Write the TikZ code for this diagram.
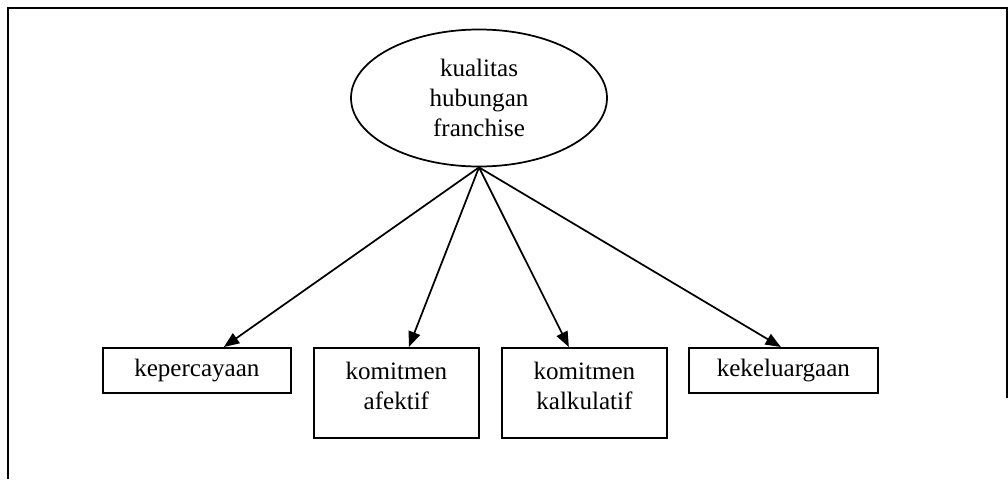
\documentclass[tikz,border=0pt]{standalone}
\usepackage{fontspec}
\setmainfont{Liberation Serif}
\usetikzlibrary{shapes.geometric,arrows.meta,calc}
\begin{document}
\begin{tikzpicture}[x=0.75pt,y=-0.75pt,
  lbl/.style={font=\fontsize{18.8pt}{22.5pt}\selectfont, align=center},
  box/.style={draw, line width=1.3pt, rectangle, inner sep=0pt, anchor=north west, lbl},
  conn/.style={-{Triangle[length=11.5pt,width=9pt]}, line width=1.3pt}]
\useasboundingbox (0,0) rectangle (1008,479);
\draw[line width=1.5pt] (8,479) -- (8,8) -- (1006.5,8) -- (1006.5,398);
\node[ellipse, draw, line width=1.3pt, minimum width=192pt, minimum height=102.75pt, inner sep=0pt, lbl] (kh) at (479,98) {kualitas\\hubungan\\franchise};
\node[box, minimum width=141pt, minimum height=33.75pt] (kep) at (102,347) {kepercayaan};
\node[box, minimum width=123.75pt, minimum height=67.5pt, text depth=10pt] (afe) at (313,347) {komitmen\\afektif};
\node[box, minimum width=123.75pt, minimum height=67.5pt, text depth=10pt] (kal) at (501,347) {komitmen\\kalkulatif};
\node[box, minimum width=141.75pt, minimum height=33.75pt] (kel) at (688,347) {kekeluargaan};
\draw[conn] (kh.south) -- ($(kep.north)+(27,0)$);
\draw[conn] (kh.south) -- ($(afe.north)+(12.5,0)$);
\draw[conn] (kh.south) -- ($(kal.north)+(-15.5,0)$);
\draw[conn] (kh.south) -- ($(kel.north)+(-2.5,0)$);
\end{tikzpicture}
\end{document}
